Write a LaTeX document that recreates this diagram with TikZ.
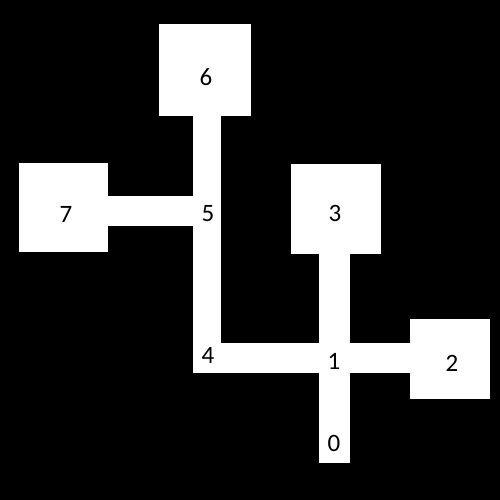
\documentclass[tikz,border=0pt]{standalone}
\usepackage{fontspec}
\setmainfont{Carlito}
\tikzset{room/.style = {rectangle, fill=white, inner sep=0, minimum width=#1, minimum height=#1}}
\tikzset{num/.style = {inner sep=0, font=\fontsize{25}{30}\selectfont}}
\tikzset{corridor/.style = {draw=white, line cap=rect, line width=#1}}

\begin{document}
\begin{tikzpicture}[x=1pt, y=-1pt]
      \fill[black] (0,0) rectangle (500,500);
      % rooms
      \node[room=92] (r6) at (205,70) {};
      \node[room=89] (r7) at (63.5,207.5) {};
      \node[room=90] (r3) at (335.5,208.5) {};
      \node[room=80] (r2) at (450,359) {};
      % junctions
      \coordinate (j5) at (206,211);
      \coordinate (j4) at (207,358);
      \coordinate (j1) at (334.5,358);
      \coordinate (j0) at (334.5,447);
      % corridors
      \draw[corridor=28] (j4) -- (j4 |- r6);
      \draw[corridor=30] (j5) -- (j5 -| r7);
      \draw[corridor=30] ([xshift=1]j4) -- (j4 -| r2);
      \draw[corridor=31] (j0) -- (j0 |- r3);
      % labels
      \node[num] (n6) at (206,77) {6};
      \node[num] (n7) at (66,214) {7};
      \node[num] (n3) at (335,213) {3};
      \node[num] (n2) at (452,363) {2};
      \node[num] (n5) at (208,214) {5};
      \node[num] (n4) at (208,355) {4};
      \node[num] (n1) at (334,361) {1};
      \node[num] (n0) at (334,443) {0};
    \end{tikzpicture}
\end{document}
